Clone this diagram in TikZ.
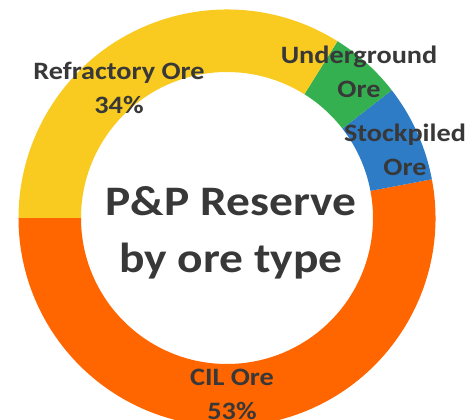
\documentclass[tikz,border=0pt]{standalone}
\usepackage{fontspec}
\setmainfont{Carlito}[FakeStretch=1.13]
\usepackage{xcolor}
\usepackage{tikz}
\usetikzlibrary{positioning}
\definecolor{refrac}{HTML}{F9CB21}
\definecolor{underg}{HTML}{34B050}
\definecolor{stockp}{HTML}{2E7BC6}
\definecolor{cilore}{HTML}{FF6600}
\definecolor{labtxt}{HTML}{383838}
\newcommand{\oreslice}[3]{%
  \fill[#1] (#2:208.5) arc[start angle=#2,end angle=#3,radius=208.5]
    -- (#3:146) arc[start angle=#3,end angle=#2,radius=146] -- cycle;}

\begin{document}
\begin{tikzpicture}[x=1pt,y=1pt,
  slicelab/.style={text=labtxt,align=center,font=\fontsize{25}{34}\selectfont\bfseries},
  titlelab/.style={text=labtxt,align=center,font=\fontsize{42}{57}\selectfont\bfseries}]
  \useasboundingbox[fill=white] (-227,-202) rectangle (242,218);
  \oreslice{cilore}{10.7}{-180}
  \oreslice{stockp}{10.7}{37.8}
  \oreslice{underg}{37.8}{58}
  \oreslice{refrac}{58}{180}
  \node[slicelab] (refraclab) at (-108,130.5) {Refractory Ore\\34\%};
  \node[slicelab] (underglab) at (132,146.5) {Underground\\Ore};
  \node[slicelab] (stockplab) at (178,68) {Stockpiled\\Ore};
  \node[slicelab] (cilorelab) at (5,-176.5) {CIL Ore\\53\%};
  \node[titlelab] (reservelab) at (4,-14.5) {P\&P Reserve\\by ore type};
\end{tikzpicture}
\end{document}
